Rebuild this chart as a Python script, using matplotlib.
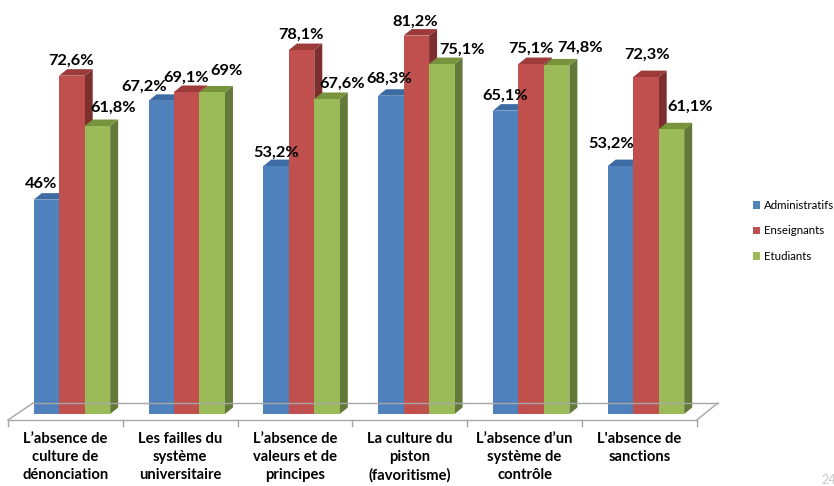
import numpy as np
import matplotlib
matplotlib.use('Agg')
import matplotlib.pyplot as plt
from matplotlib.patches import Polygon, Patch

plt.rcParams['font.family'] = ['Lato', 'DejaVu Sans']

categories = ['L’absence de\nculture de\ndénonciation',
              'Les failles du\nsystème\nuniversitaire',
              'L’absence de\nvaleurs et de\nprincipes',
              'La culture du\npiston\n(favoritisme)',
              'L’absence d’un\nsystème de\ncontrôle',
              "L'absence de\nsanctions"]
series = ['Administratifs', 'Enseignants', 'Etudiants']
administratifs = [46.0, 67.2, 53.2, 68.3, 65.1, 53.2]
enseignants = [72.6, 69.1, 78.1, 81.2, 75.1, 72.3]
etudiants = [61.8, 69.0, 67.6, 75.1, 74.8, 61.1]
labels = [['46%', '67,2%', '53,2%', '68,3%', '65,1%', '53,2%'],
          ['72,6%', '69,1%', '78,1%', '81,2%', '75,1%', '72,3%'],
          ['61,8%', '69%', '67,6%', '75,1%', '74,8%', '61,1%']]

# label nudges in pixels (dx from front-face centre, dy above front top)
nudge_dx = [[-5.5, -17, 0, -1.7, -0.5, -9],
            [-0.5, -0.3, -0.5, -1, 0, 1],
            [15.5, 14, 15, 20, 23, 19]]
nudge_dy = [[11.6, 10, 9.4, 13, 10.6, 18],
            [10.7, 10, 11, 10, 11, 18],
            [14, 17.5, 11, 10.7, 13.4, 18]]

front = ['#4F81BD', '#C0504D', '#9BBB59']
top = ['#3d6ba3', '#9c3b39', '#77933c']
side = ['#2f5380', '#7d2f2d', '#63793a']

W, H = 834, 486
PX_X = 114.8          # pixels per category
PX_Y = 4.66           # pixels per percent
X0, Y0 = 8, 414       # pixel of x=-0.5 and of 0 %

fig = plt.figure(figsize=(W / 100, H / 100), dpi=100)
ax = fig.add_axes([0, 0, 1, 1])
ax.set_xlim(-X0 / PX_X - 0.5, (W - X0) / PX_X - 0.5)
ax.set_ylim((Y0 - H) / PX_Y, Y0 / PX_Y)
ax.axis('off')

# floor outline
fy, by = -6 / PX_Y, 11 / PX_Y
fl = '#a6a6a6'
ax.plot([-0.5, 5.5], [fy, fy], color=fl, lw=1)
ax.plot([-0.282, 5.683], [by, by], color=fl, lw=1)
ax.plot([-0.5, -0.282], [fy, by], color=fl, lw=1)
ax.plot([5.5, 5.683], [fy, by], color=fl, lw=1)
for t in np.arange(-0.5, 6.0, 1.0):
    ax.plot([t, t], [fy, fy - 6 / PX_Y], color=fl, lw=1)

bw = 25.5 / PX_X
ddx, ddy = 8 / PX_X, 6.5 / PX_Y
offsets = [-0.165, 0.057, 0.279]
x = np.arange(len(categories))
values = [administratifs, enseignants, etudiants]

for i in x:
    for s in range(3):
        v = values[s][i]
        l = i + offsets[s] - bw / 2
        r = l + bw
        ax.add_patch(Polygon([(r, 0), (r + ddx, ddy), (r + ddx, v + ddy), (r, v)],
                             closed=True, fc=side[s], ec='none'))
        ax.add_patch(Polygon([(l, v), (l + ddx, v + ddy), (r + ddx, v + ddy), (r, v)],
                             closed=True, fc=top[s], ec='none'))
        ax.bar(i + offsets[s], v, width=bw, color=front[s], linewidth=0)
        ax.annotate(labels[s][i], (i + offsets[s], v),
                    xytext=(nudge_dx[s][i] * 0.72, nudge_dy[s][i] * 0.72),
                    textcoords='offset points', ha='center', va='baseline',
                    fontsize=11.8, fontweight='bold', color='black')

for i, c in enumerate(categories):
    ax.text(i, (Y0 - 432) / PX_Y, c, ha='center', va='top', fontsize=10.6,
            fontweight='bold', linespacing=1.37, color='black')

handles = [Patch(facecolor=front[s], edgecolor='none') for s in range(3)]
fig.legend(handles, series, loc='center left', bbox_to_anchor=(747 / W, 1 - 231 / H),
           frameon=False, fontsize=8.3, handlelength=0.6, handleheight=0.6,
           handletextpad=0.4, labelspacing=1.25, borderpad=0)

fig.text(821 / W, 1 - 474 / H, '24', fontsize=9, color='#c8c8c8', va='top')

fig.savefig('out.png', dpi=100, facecolor='white')
